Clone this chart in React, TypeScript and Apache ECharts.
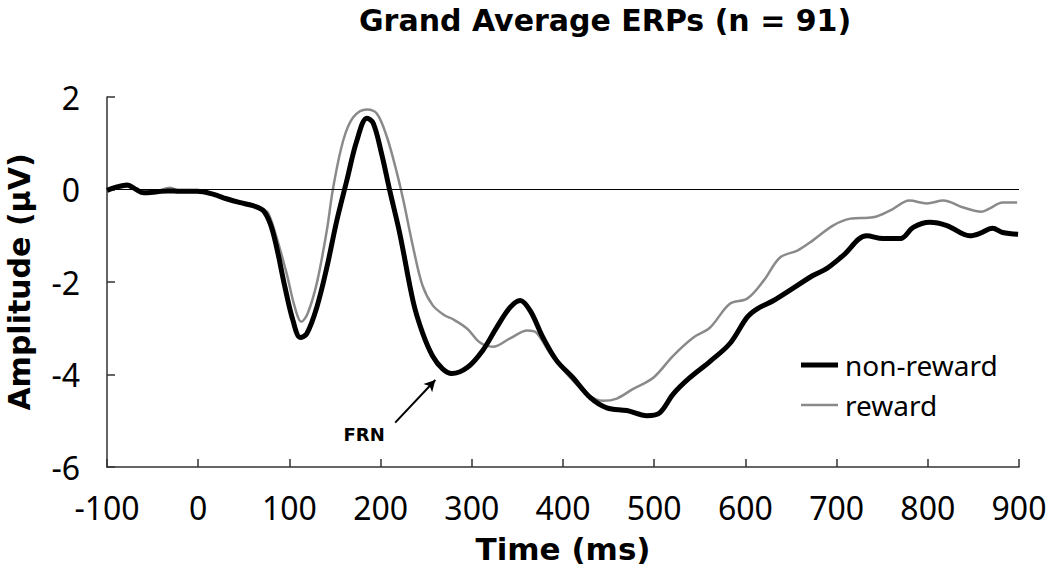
import React, { useEffect, useRef } from "react";
import * as echarts from "echarts";

const titleText = "Grand Average ERPs (n = 91)";
const xAxisTitle = "Time (ms)";
const yAxisTitle = "Amplitude (µV)";
const seriesNames = ["non-reward", "reward"];
const xTicks = { min: -100, max: 900, interval: 100 };
const yTicks = { min: -6, max: 2, interval: 2 };

// [time (ms), amplitude (µV)]
const nonReward: number[][] = [
  [-100, -0.02], [-90, 0.05], [-78, 0.1], [-68, 0.0], [-60, -0.07], [-45, -0.05], [-34, -0.03],
  [-20, -0.04], [-1, -0.04], [16, -0.1], [31, -0.2], [45, -0.28], [60, -0.35], [71, -0.45],
  [79, -0.74], [86, -1.25], [95, -2.1], [104, -2.84], [112, -3.2], [119, -3.12], [130, -2.55],
  [141, -1.69], [152, -0.67], [163, 0.2], [174, 1.06], [185, 1.54], [192, 1.43], [201, 0.78],
  [210, -0.02], [221, -0.95], [236, -2.45], [246, -3.1], [257, -3.6], [268, -3.88], [278, -3.98],
  [295, -3.85], [312, -3.48], [327, -2.99], [342, -2.55], [353, -2.4], [364, -2.62], [378, -3.2],
  [393, -3.7], [411, -4.07], [430, -4.5], [448, -4.72], [470, -4.78], [492, -4.89], [506, -4.83],
  [521, -4.42], [539, -4.07], [561, -3.72], [583, -3.33], [602, -2.76], [613, -2.58], [631, -2.4],
  [652, -2.14], [674, -1.86], [689, -1.71], [707, -1.43], [733, -1.0], [751, -1.06], [770, -1.06],
  [784, -0.82], [802, -0.71], [821, -0.78], [846, -1.0], [857, -0.95], [871, -0.84], [882, -0.93],
  [899, -0.97],
];

const reward: number[][] = [
  [-100, 0.0], [-90, 0.04], [-78, 0.06], [-68, -0.01], [-60, -0.05], [-45, -0.03], [-31, 0.04],
  [-20, -0.03], [-1, -0.04], [16, -0.1], [31, -0.2], [45, -0.27], [60, -0.33], [71, -0.42],
  [77, -0.52], [86, -1.04], [97, -1.82], [106, -2.55], [113, -2.86], [120, -2.68], [130, -2.03],
  [141, -0.89], [148, 0.04], [159, 1.06], [170, 1.56], [185, 1.73], [196, 1.64], [207, 1.13],
  [218, 0.35], [225, -0.24], [236, -1.28], [246, -2.08], [257, -2.5], [270, -2.72], [279, -2.8],
  [295, -3.01], [309, -3.31], [323, -3.4], [342, -3.22], [361, -3.05], [371, -3.1], [386, -3.55],
  [404, -3.98], [426, -4.42], [444, -4.57], [459, -4.52], [477, -4.31], [499, -4.07], [521, -3.59],
  [543, -3.2], [561, -2.99], [583, -2.47], [602, -2.36], [620, -1.97], [638, -1.47], [657, -1.32],
  [674, -1.1], [696, -0.78], [715, -0.63], [740, -0.6], [759, -0.45], [780, -0.24], [799, -0.3],
  [817, -0.24], [839, -0.39], [859, -0.48], [868, -0.41], [882, -0.28], [898, -0.28],
];

// FRN annotation arrow: [time, amplitude] start -> end, and label anchor
const frnArrow: number[][] = [[216, -5.04], [260, -4.12]];
const frnLabelAt: number[] = [182, -5.3];
const frnLabel = "FRN";

const BOLD = "DejaVu Sans, Verdana, sans-serif";
const REG = "Noto Sans, DejaVu Sans, sans-serif";

export default function App() {
  const ref = useRef<HTMLDivElement>(null);
  useEffect(() => {
    if (!ref.current) return;
    const chart = echarts.init(ref.current, null, { renderer: "svg" });
    chart.setOption({
      animation: false,
      backgroundColor: "#ffffff",
      textStyle: { fontFamily: REG },
      title: {
        text: titleText,
        left: 354,
        top: 0,
        textStyle: { fontFamily: BOLD, fontWeight: "bold", fontSize: 30, color: "#000" },
      },
      grid: {
        left: 107,
        right: 31,
        top: 97,
        bottom: 106,
        containLabel: false,
        outerBoundsMode: "none",
      },
      legend: {
        orient: "vertical",
        left: 796,
        top: 346,
        itemWidth: 37,
        itemHeight: 14,
        itemGap: 12,
        symbolKeepAspect: true,
        data: [
          { name: seriesNames[0], icon: "path://M0 0H37V5H0Z", itemStyle: { color: "#000" } },
          { name: seriesNames[1], icon: "path://M0 0H37V2.5H0Z", itemStyle: { color: "#8a8a8a" } },
        ],
        textStyle: { fontFamily: REG, fontSize: 28, color: "#000", padding: [0, 0, 0, 2] },
      },
      xAxis: {
        type: "value",
        min: xTicks.min,
        max: xTicks.max,
        interval: xTicks.interval,
        name: xAxisTitle,
        nameLocation: "middle",
        nameGap: 66,
        nameTextStyle: { fontFamily: BOLD, fontWeight: "bold", fontSize: 31, color: "#000" },
        axisLine: { onZero: false, lineStyle: { color: "#333", width: 1.5 } },
        axisTick: { inside: true, length: 8, lineStyle: { color: "#333", width: 1.5 } },
        axisLabel: { fontFamily: REG, fontSize: 32, color: "#000", margin: 24 },
        splitLine: { show: false },
      },
      yAxis: {
        type: "value",
        min: yTicks.min,
        max: yTicks.max,
        interval: yTicks.interval,
        name: yAxisTitle,
        nameLocation: "middle",
        nameGap: 73,
        nameTextStyle: { fontFamily: BOLD, fontWeight: "bold", fontSize: 30, color: "#000" },
        axisLine: { show: true, onZero: false, lineStyle: { color: "#333", width: 1.5 } },
        axisTick: { show: true, inside: true, length: 8, lineStyle: { color: "#333", width: 1.5 } },
        axisLabel: { fontFamily: REG, fontSize: 32, color: "#000", margin: 27 },
        splitLine: { show: false },
      },
      series: [
        {
          name: seriesNames[1],
          type: "line",
          data: reward,
          smooth: 0.35,
          symbol: "none",
          showSymbol: false,
          lineStyle: { color: "#8a8a8a", width: 2.5 },
          itemStyle: { color: "#8a8a8a" },
          z: 2,
          markLine: {
            silent: true,
            symbol: ["none", "none"],
            label: { show: false },
            lineStyle: { color: "#000", width: 1, type: "solid" },
            data: [{ yAxis: 0 }],
          },
        },
        {
          name: seriesNames[0],
          type: "line",
          data: nonReward,
          smooth: 0.35,
          symbol: "none",
          showSymbol: false,
          lineStyle: { color: "#000", width: 5 },
          itemStyle: { color: "#000" },
          z: 3,
          markLine: {
            silent: true,
            symbol: ["none", "arrow"],
            symbolSize: [9, 11],
            label: { show: false },
            lineStyle: { color: "#000", width: 2, type: "solid" },
            data: [[{ coord: frnArrow[0] }, { coord: frnArrow[1] }]],
          },
          markPoint: {
            silent: true,
            symbol: "circle",
            symbolSize: 0,
            label: {
              show: true,
              formatter: frnLabel,
              fontFamily: BOLD,
              fontWeight: "bold",
              fontSize: 18,
              color: "#000",
              position: "inside",
            },
            data: [{ coord: frnLabelAt }],
          },
        },
      ],
    });
    return () => chart.dispose();
  }, []);
  return (
    <div
      ref={ref}
      style={{ position: "fixed", left: 0, top: 0, width: 1050, height: 573, background: "#fff" }}
    />
  );
}
